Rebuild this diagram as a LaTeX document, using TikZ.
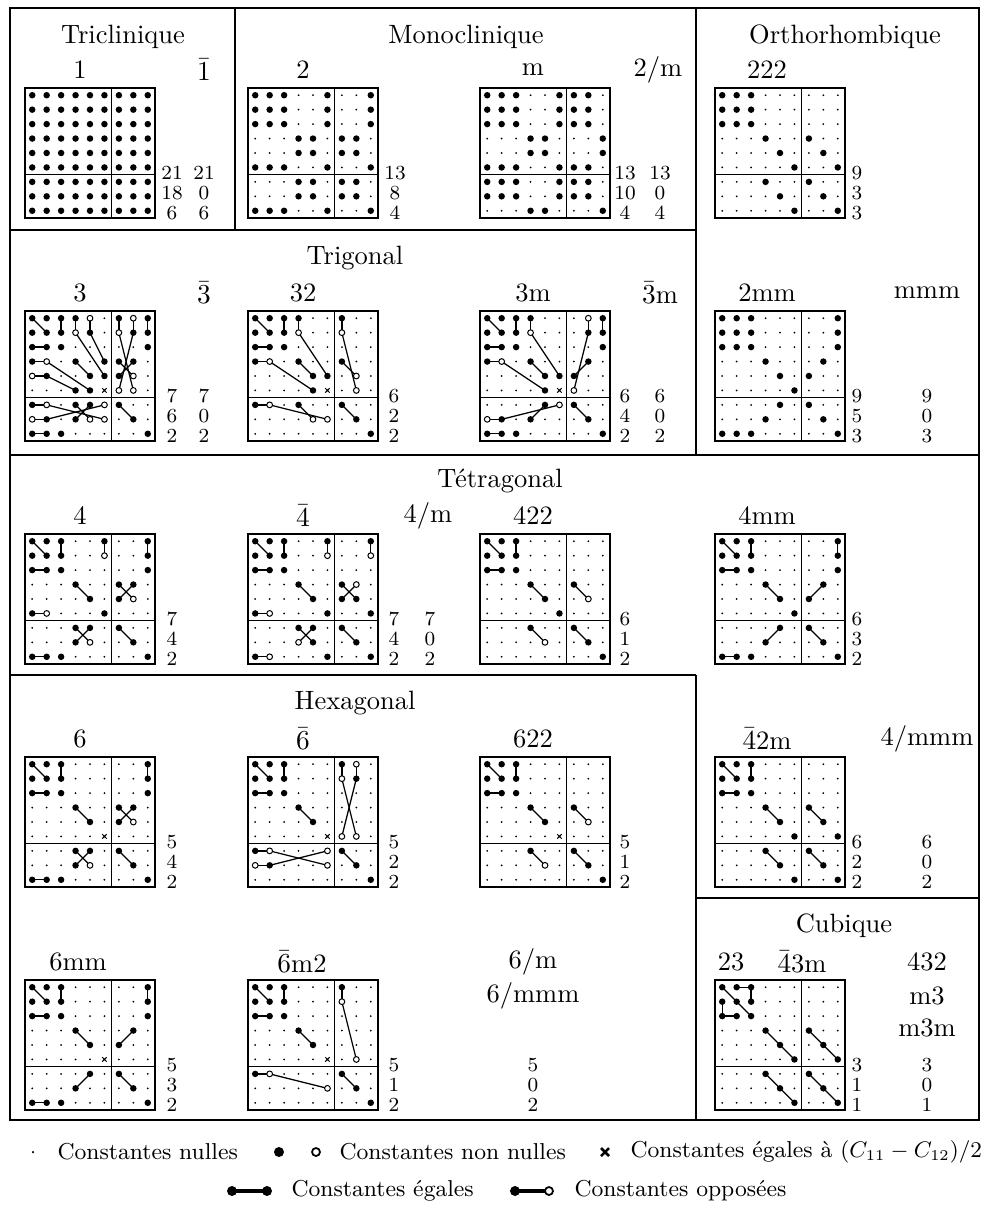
\documentclass[tikz,border=0pt]{standalone}
\usetikzlibrary{positioning}
\tikzset{
  cadre/.style={line width=0.6pt},
  lien/.style={line width=0.5pt},
  titre/.style={font=\fontsize{10.6}{12}\selectfont},
  classe/.style={font=\fontsize{10.6}{12}\selectfont},
  nombre/.style={font=\fontsize{8}{9}\selectfont,inner sep=0pt},
  legende/.style={font=\fontsize{9.2}{10}\selectfont,anchor=west,inner sep=0pt}
}
% matrice 9x9 : cadre, zeros et coordonnees (nom-ligne-colonne)
\newcommand{\grille}[1]{%
  \draw[cadre] (0,0) rectangle (130,130);
  \draw[cadre] (86.67,0) -- (86.67,130);
  \draw[cadre] (0,86.67) -- (130,86.67);
  \foreach \ligne in {1,...,9}
    \foreach \col in {1,...,9}{
      \coordinate (#1-\ligne-\col) at (\col*14.444-7.222,\ligne*14.444-7.222);
      \fill (#1-\ligne-\col) circle[radius=0.4pt];
    }%
}
\newcommand{\pleins}[2]{\foreach \cel in {#2} \fill (#1-\cel) circle[radius=1.3pt];}
\newcommand{\vides}[2]{\foreach \cel in {#2} \draw[line width=0.4pt,fill=white] (#1-\cel) circle[radius=1.15pt];}
\newcommand{\liens}[2]{\foreach \ca/\cb in {#2} \draw[lien] (#1-\ca) -- (#1-\cb);}
\newcommand{\croix}[1]{\draw[line width=0.4pt] (#1) ++(-2.2,-2.2) -- ++(4.4,4.4) ++(0,-4.4) -- ++(-4.4,4.4);}
\newcommand{\valeurs}[5]{%
  \node[nombre] (#1-a) at (#2,85) {#3};
  \node[nombre] (#1-b) at (#2,105) {#4};
  \node[nombre] (#1-c) at (#2,125) {#5};}
\begin{document}
\begin{tikzpicture}[x=0.4pt,y=-0.4pt]
\useasboundingbox (0,0) rectangle (980,1205);
% cadres
\draw[cadre] (10,8) rectangle (979,1120);
\draw[cadre] (235,8) -- (235,230);
\draw[cadre] (10,230) -- (696,230);
\draw[cadre] (696,8) -- (696,455);
\draw[cadre] (10,455) -- (979,455);
\draw[cadre] (10,675) -- (696,675);
\draw[cadre] (696,675) -- (696,1120);
\draw[cadre] (696,898) -- (979,898);
% systemes
\node[titre] (tricl) at (123,37) {Triclinique};
\node[titre] (monocl) at (466,37) {Monoclinique};
\node[titre] (ortho) at (845,37) {Orthorhombique};
\node[titre] (trigo) at (355,258) {Trigonal};
\node[titre] (tetra) at (500,481) {Tétragonal};
\node[titre] (hexa) at (355,703) {Hexagonal};
\node[titre] (cubi) at (844,926) {Cubique};

% Triclinique
\begin{scope}[shift={(25,88)}]
\grille{tri}
\foreach \ligne in {1,...,9} \foreach \col in {1,...,9} \fill (tri-\ligne-\col) circle[radius=1.3pt];
\node[classe] (tri-l1) at (55,-18) {1};
\node[classe] (tri-l2) at (179,-18) {$\bar{1}$};
\valeurs{tri-i}{147}{21}{18}{6}
\valeurs{tri-ii}{179}{21}{0}{6}
\end{scope}
% Monoclinique
\begin{scope}[shift={(248,88)}]
\grille{mo}
\foreach \ligne in {1,2,3,6,9} \foreach \col in {1,2,3,6,9} \fill (mo-\ligne-\col) circle[radius=1.3pt];
\foreach \ligne in {4,5,7,8} \foreach \col in {4,5,7,8} \fill (mo-\ligne-\col) circle[radius=1.3pt];
\node[classe] (mo-l1) at (55,-18) {2};
\valeurs{mo-i}{147}{13}{8}{4}
\end{scope}
\begin{scope}[shift={(480,88)}]
\grille{mm}
\foreach \ligne in {1,2,3,6,7,8} \foreach \col in {1,2,3,6,7,8} \fill (mm-\ligne-\col) circle[radius=1.3pt];
\foreach \ligne in {4,5,9} \foreach \col in {4,5,9} \fill (mm-\ligne-\col) circle[radius=1.3pt];
\node[classe] (mm-l1) at (53,-18) {m};
\node[classe] (mm-l2) at (178,-18) {2/m};
\valeurs{mm-i}{145}{13}{10}{4}
\valeurs{mm-ii}{180}{13}{0}{4}
\end{scope}
% Orthorhombique
\begin{scope}[shift={(715,88)}]
\grille{o222}
\pleins{o222}{1-1,1-2,1-3,2-1,2-2,2-3,3-1,3-2,3-3,4-4,5-5,6-6,4-7,5-8,6-9,7-4,8-5,9-6,7-7,8-8,9-9}
\node[classe] (o222-l1) at (52,-18) {222};
\valeurs{o222-i}{142}{9}{3}{3}
\end{scope}
\begin{scope}[shift={(715,311)}]
\grille{omm}
\pleins{omm}{1-1,1-2,1-3,2-1,2-2,2-3,3-1,3-2,3-3,4-4,5-5,6-6,1-9,2-9,3-9,4-8,5-7,7-5,8-4,9-1,9-2,9-3,7-7,8-8,9-9}
\node[classe] (omm-l1) at (52,-18) {2mm};
\node[classe] (omm-l2) at (212,-18) {mmm};
\valeurs{omm-i}{142}{9}{5}{3}
\valeurs{omm-ii}{212}{9}{0}{3}
\end{scope}

% Trigonal
\begin{scope}[shift={(25,311)}]
\grille{t3}
\liens{t3}{1-1/2-2,1-3/2-3,1-4/2-4,1-5/2-5,3-1/3-2,4-1/4-2,5-1/5-2,2-4/5-6,2-5/4-6,4-2/6-5,5-2/6-4,4-4/5-5,1-7/2-7,1-8/2-8,1-9/2-9,2-7/6-8,2-8/6-7,4-7/5-8,4-8/5-7,7-1/7-2,8-1/8-2,7-2/8-6,8-2/7-6,7-4/8-5,7-5/8-4,9-1/9-2,7-7/8-8}
\pleins{t3}{1-1,1-2,1-3,1-4,2-1,2-2,2-3,2-5,3-1,3-2,3-3,4-1,4-4,4-6,5-2,5-5,5-6,6-4,6-5,1-7,1-9,2-8,2-9,3-9,4-7,4-8,5-7,7-1,7-4,7-5,8-2,8-4,9-1,9-2,9-3,7-7,8-8,9-9}
\vides{t3}{1-5,2-4,4-2,5-1,1-8,2-7,5-8,6-7,6-8,7-2,7-6,8-1,8-5,8-6}
\croix{t3-6-6}
\node[classe] (t3-l1) at (55,-18) {3};
\node[classe] (t3-l2) at (179,-18) {$\bar{3}$};
\valeurs{t3-i}{147}{7}{6}{2}
\valeurs{t3-ii}{179}{7}{0}{2}
\end{scope}
\begin{scope}[shift={(248,311)}]
\grille{t32}
\liens{t32}{1-1/2-2,1-3/2-3,3-1/3-2,1-4/2-4,4-1/4-2,2-4/5-6,4-2/6-5,4-4/5-5,1-7/2-7,2-7/6-8,4-7/5-8,7-1/7-2,7-2/8-6,7-4/8-5,7-7/8-8}
\pleins{t32}{1-1,1-2,1-3,2-1,2-2,2-3,3-1,3-2,3-3,1-4,4-1,4-4,5-5,5-6,6-5,1-7,4-7,7-1,7-4,7-7,8-8,9-9}
\vides{t32}{2-4,4-2,2-7,5-8,6-8,7-2,8-5,8-6}
\croix{t32-6-6}
\node[classe] (t32-l1) at (55,-18) {32};
\valeurs{t32-i}{146}{6}{2}{2}
\end{scope}
\begin{scope}[shift={(480,311)}]
\grille{t3m}
\liens{t3m}{1-1/2-2,1-3/2-3,3-1/3-2,1-4/2-4,4-1/4-2,2-4/5-6,4-2/6-5,4-4/5-5,1-8/2-8,1-9/2-9,2-8/6-7,4-8/5-7,8-1/8-2,8-2/7-6,8-4/7-5,9-1/9-2,7-7/8-8}
\pleins{t3m}{1-1,1-2,1-3,2-1,2-2,2-3,3-1,3-2,3-3,1-4,4-1,4-4,5-5,5-6,6-5,1-9,2-8,2-9,3-9,4-8,5-7,7-5,8-2,8-4,9-1,9-2,9-3,7-7,8-8,9-9}
\vides{t3m}{2-4,4-2,1-8,6-7,7-6,8-1}
\croix{t3m-6-6}
\node[classe] (t3m-l1) at (53,-18) {3m};
\node[classe] (t3m-l2) at (180,-18) {$\bar{3}$m};
\valeurs{t3m-i}{145}{6}{4}{2}
\valeurs{t3m-ii}{180}{6}{0}{2}
\end{scope}

% Tetragonal
\begin{scope}[shift={(25,534)}]
\grille{q4}
\liens{q4}{1-1/2-2,1-3/2-3,3-1/3-2,1-6/2-6,6-1/6-2,4-4/5-5,1-9/2-9,4-7/5-8,4-8/5-7,7-4/8-5,7-5/8-4,9-1/9-2,7-7/8-8}
\pleins{q4}{1-1,1-2,1-3,2-1,2-2,2-3,3-1,3-2,3-3,1-6,6-1,4-4,5-5,6-6,1-9,2-9,3-9,4-7,4-8,5-7,7-4,7-5,8-4,9-1,9-2,9-3,7-7,8-8,9-9}
\vides{q4}{2-6,6-2,5-8,8-5}
\node[classe] (q4-l1) at (55,-18) {4};
\valeurs{q4-i}{147}{7}{4}{2}
\end{scope}
\begin{scope}[shift={(248,534)}]
\grille{q4b}
\liens{q4b}{1-1/2-2,1-3/2-3,3-1/3-2,1-6/2-6,6-1/6-2,4-4/5-5,1-9/2-9,4-7/5-8,4-8/5-7,7-4/8-5,7-5/8-4,9-1/9-2,7-7/8-8}
\pleins{q4b}{1-1,1-2,1-3,2-1,2-2,2-3,3-1,3-2,3-3,1-6,6-1,4-4,5-5,6-6,1-9,4-7,5-7,5-8,6-9,7-4,7-5,8-5,9-1,9-6,7-7,8-8,9-9}
\vides{q4b}{2-6,6-2,2-9,4-8,8-4,9-2}
\node[classe] (q4b-l1) at (55,-18) {$\bar{4}$};
\node[classe] (q4b-l2) at (180,-18) {4/m};
\valeurs{q4b-i}{146}{7}{4}{2}
\valeurs{q4b-ii}{182}{7}{0}{2}
\end{scope}
\begin{scope}[shift={(480,534)}]
\grille{q422}
\liens{q422}{1-1/2-2,1-3/2-3,3-1/3-2,4-4/5-5,4-7/5-8,7-4/8-5,7-7/8-8}
\pleins{q422}{1-1,1-2,1-3,2-1,2-2,2-3,3-1,3-2,3-3,4-4,5-5,6-6,4-7,7-4,7-7,8-8,9-9}
\vides{q422}{5-8,8-5}
\node[classe] (q422-l1) at (53,-18) {422};
\valeurs{q422-i}{145}{6}{1}{2}
\end{scope}
\begin{scope}[shift={(715,534)}]
\grille{q4mm}
\liens{q4mm}{1-1/2-2,1-3/2-3,3-1/3-2,4-4/5-5,1-9/2-9,4-8/5-7,7-5/8-4,9-1/9-2,7-7/8-8}
\pleins{q4mm}{1-1,1-2,1-3,2-1,2-2,2-3,3-1,3-2,3-3,4-4,5-5,6-6,1-9,2-9,3-9,4-8,5-7,7-5,8-4,9-1,9-2,9-3,7-7,8-8,9-9}
\node[classe] (q4mm-l1) at (52,-18) {4mm};
\valeurs{q4mm-i}{142}{6}{3}{2}
\end{scope}
\begin{scope}[shift={(715,757)}]
\grille{q42m}
\liens{q42m}{1-1/2-2,1-3/2-3,3-1/3-2,4-4/5-5,4-7/5-8,7-4/8-5,7-7/8-8}
\pleins{q42m}{1-1,1-2,1-3,2-1,2-2,2-3,3-1,3-2,3-3,4-4,5-5,6-6,4-7,5-8,6-9,7-4,8-5,9-6,7-7,8-8,9-9}
\node[classe] (q42m-l1) at (52,-18) {$\bar{4}$2m};
\node[classe] (q42m-l2) at (212,-18) {4/mmm};
\valeurs{q42m-i}{142}{6}{2}{2}
\valeurs{q42m-ii}{212}{6}{0}{2}
\end{scope}

% Hexagonal
\begin{scope}[shift={(25,757)}]
\grille{h6}
\liens{h6}{1-1/2-2,1-3/2-3,3-1/3-2,4-4/5-5,1-9/2-9,4-7/5-8,4-8/5-7,7-4/8-5,7-5/8-4,9-1/9-2,7-7/8-8}
\pleins{h6}{1-1,1-2,1-3,2-1,2-2,2-3,3-1,3-2,3-3,4-4,5-5,1-9,2-9,3-9,4-7,4-8,5-7,7-4,7-5,8-4,9-1,9-2,9-3,7-7,8-8,9-9}
\vides{h6}{5-8,8-5}
\croix{h6-6-6}
\node[classe] (h6-l1) at (55,-18) {6};
\valeurs{h6-i}{147}{5}{4}{2}
\end{scope}
\begin{scope}[shift={(248,757)}]
\grille{h6b}
\liens{h6b}{1-1/2-2,1-3/2-3,3-1/3-2,4-4/5-5,1-7/2-7,1-8/2-8,2-7/6-8,2-8/6-7,7-1/7-2,8-1/8-2,7-2/8-6,8-2/7-6,7-7/8-8}
\pleins{h6b}{1-1,1-2,1-3,2-1,2-2,2-3,3-1,3-2,3-3,4-4,5-5,1-7,2-8,7-1,8-2,7-7,8-8,9-9}
\vides{h6b}{1-8,2-7,6-7,6-8,7-2,7-6,8-1,8-6}
\croix{h6b-6-6}
\node[classe] (h6b-l1) at (55,-18) {$\bar{6}$};
\valeurs{h6b-i}{146}{5}{2}{2}
\end{scope}
\begin{scope}[shift={(480,757)}]
\grille{h622}
\liens{h622}{1-1/2-2,1-3/2-3,3-1/3-2,4-4/5-5,4-7/5-8,7-4/8-5,7-7/8-8}
\pleins{h622}{1-1,1-2,1-3,2-1,2-2,2-3,3-1,3-2,3-3,4-4,5-5,4-7,7-4,7-7,8-8,9-9}
\vides{h622}{5-8,8-5}
\croix{h622-6-6}
\node[classe] (h622-l1) at (53,-18) {622};
\valeurs{h622-i}{145}{5}{1}{2}
\end{scope}
\begin{scope}[shift={(25,980)}]
\grille{h6mm}
\liens{h6mm}{1-1/2-2,1-3/2-3,3-1/3-2,4-4/5-5,1-9/2-9,4-8/5-7,7-5/8-4,9-1/9-2,7-7/8-8}
\pleins{h6mm}{1-1,1-2,1-3,2-1,2-2,2-3,3-1,3-2,3-3,4-4,5-5,1-9,2-9,3-9,4-8,5-7,7-5,8-4,9-1,9-2,9-3,7-7,8-8,9-9}
\croix{h6mm-6-6}
\node[classe] (h6mm-l1) at (53,-18) {6mm};
\valeurs{h6mm-i}{147}{5}{3}{2}
\end{scope}
\begin{scope}[shift={(248,980)}]
\grille{h6m2}
\liens{h6m2}{1-1/2-2,1-3/2-3,3-1/3-2,4-4/5-5,1-7/2-7,2-7/6-8,7-1/7-2,7-2/8-6,7-7/8-8}
\pleins{h6m2}{1-1,1-2,1-3,2-1,2-2,2-3,3-1,3-2,3-3,4-4,5-5,1-7,7-1,7-7,8-8,9-9}
\vides{h6m2}{2-7,6-8,7-2,8-6}
\croix{h6m2-6-6}
\node[classe] (h6m2-l1) at (54,-18) {$\bar{6}$m2};
\node[classe] (h6m2-l2) at (285,-18) {6/m};
\node[classe] (h6m2-l3) at (285,16) {6/mmm};
\valeurs{h6m2-i}{146}{5}{1}{2}
\valeurs{h6m2-ii}{285}{5}{0}{2}
\end{scope}

% Cubique
\begin{scope}[shift={(715,980)}]
\grille{cu}
\liens{cu}{1-1/2-2,2-2/3-3,1-2/1-3,1-3/2-3,2-1/3-1,3-1/3-2,4-4/5-5,5-5/6-6,4-7/5-8,5-8/6-9,7-4/8-5,8-5/9-6,7-7/8-8,8-8/9-9}
\pleins{cu}{1-1,1-2,1-3,2-1,2-2,2-3,3-1,3-2,3-3,4-4,5-5,6-6,4-7,5-8,6-9,7-4,8-5,9-6,7-7,8-8,9-9}
\node[classe] (cu-l1) at (16,-18) {23};
\node[classe] (cu-l2) at (87,-18) {$\bar{4}$3m};
\node[classe] (cu-l3) at (212,-18) {432};
\node[classe] (cu-l4) at (212,16) {m3};
\node[classe] (cu-l5) at (212,48) {m3m};
\valeurs{cu-i}{142}{3}{1}{1}
\valeurs{cu-ii}{212}{3}{0}{1}
\end{scope}

% legende
\coordinate (lz) at (33,1152);
\fill (lz) circle[radius=0.5pt];
\node[legende] (t-nul) at (57,1152) {Constantes nulles};
\coordinate (lp) at (279,1152);
\coordinate (lv) at (316,1152);
\fill (lp) circle[radius=2pt];
\draw[line width=0.7pt] (lv) circle[radius=1.6pt];
\node[legende] (t-nonnul) at (339,1152) {Constantes non nulles};
\coordinate (lx) at (605,1152);
\draw[line width=1pt] (lx) ++(-4,-4) -- ++(8,8) ++(0,-8) -- ++(-8,8);
\node[legende] (t-egx) at (630,1152) {Constantes égales à $(C_{11}-C_{12})/2$};
\coordinate (e1) at (232,1191);
\coordinate (e2) at (267,1191);
\draw[line width=1.3pt] (e1) -- (e2);
\fill (e1) circle[radius=2pt] (e2) circle[radius=2pt];
\node[legende] (t-eg) at (291,1191) {Constantes égales};
\coordinate (o1) at (515,1191);
\coordinate (o2) at (549,1191);
\draw[line width=1.3pt] (o1) -- (o2);
\fill (o1) circle[radius=2pt];
\draw[line width=0.7pt,fill=white] (o2) circle[radius=1.6pt];
\node[legende] (t-op) at (574,1191) {Constantes opposées};
\end{tikzpicture}
\end{document}
